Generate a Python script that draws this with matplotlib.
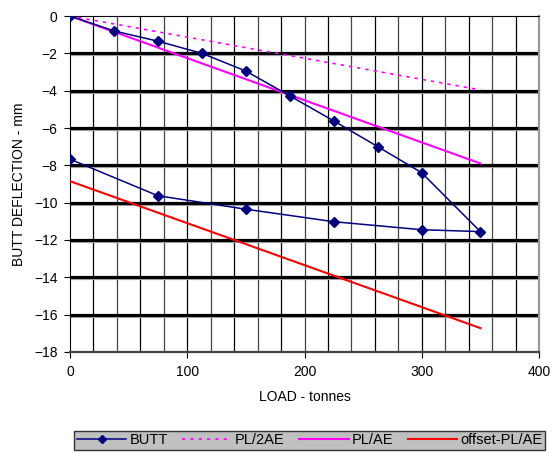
import numpy as np
import matplotlib.pyplot as plt

plt.rcParams['font.family'] = ['Liberation Sans', 'DejaVu Sans']

# BUTT deflection: loading then unloading
butt_load = [0, 37.5, 75, 112.5, 150, 187.5, 225, 262.5, 300, 350,
             300, 225, 150, 75, 0]
butt_defl = [0, -0.8, -1.35, -2.0, -2.95, -4.28, -5.62, -7.0, -8.4, -11.55,
             -11.45, -11.02, -10.35, -9.63, -7.67]

line_load = [0, 350]
pl2ae = [0, -3.96]
plae = [0, -7.9]
offset_plae = [-8.85, -16.72]

fig = plt.figure(figsize=(5.56, 4.53), dpi=100)
ax = fig.add_axes([70 / 556, 1 - 352 / 453, 469 / 556, 336 / 453])

ax.set_xlim(0, 400)
ax.set_ylim(-18, 0)

# grid: vertical every 20, horizontal every 2 (thick, with grey shadow)
for gx in np.arange(20, 400, 20):
    ax.axvline(gx, color='#000000' if (gx // 20) % 2 else '#444444', lw=0.9, zorder=1)
for gy in np.arange(-16, 0, 2):
    ax.plot([0, 400], [gy - 0.1, gy - 0.1], color='#b0b0b0', lw=1.6, zorder=1.1)
    ax.axhline(gy, color='black', lw=2.3, zorder=1.2)

ax.plot(butt_load, butt_defl, color='#000080', lw=1.1, marker='D', ms=5.5,
        label='BUTT', zorder=4)
ax.plot(line_load, pl2ae, color='#ff00ff', lw=1.2, ls=(0, (2, 3)),
        label='PL/2AE', zorder=3)
ax.plot(line_load, plae, color='#ff00ff', lw=1.5, label='PL/AE', zorder=3)
ax.plot(line_load, offset_plae, color='#ff0000', lw=1.5,
        label='offset-PL/AE', zorder=3)

ax.set_xticks([0, 100, 200, 300, 400])
ax.set_yticks(np.arange(-18, 1, 2))
ax.tick_params(labelsize=10, length=4, width=0.8, direction='out', pad=5)

ax.spines['left'].set_color('black')
ax.spines['bottom'].set_color('#444444')
ax.spines['bottom'].set_linewidth(1.6)
ax.spines['right'].set_color('#999999')
ax.spines['right'].set_linewidth(1.6)
ax.spines['top'].set_color('black')
ax.spines['top'].set_linewidth(0.8)

ax.set_xlabel('LOAD - tonnes', fontsize=10, labelpad=8)
ax.set_ylabel('BUTT DEFLECTION - mm', fontsize=10, labelpad=6)

leg = fig.legend(loc='center', bbox_to_anchor=(309.5 / 556, 1 - 440.5 / 453),
                 ncol=4, fontsize=10.5, frameon=True, fancybox=False,
                 handlelength=3.4, handletextpad=0.2, columnspacing=1.0,
                 borderpad=0.2, borderaxespad=0, markerscale=0.8)
leg.get_frame().set_facecolor('#c0c0c0')
leg.get_frame().set_edgecolor('#333333')
leg.get_frame().set_alpha(1)

fig.savefig('out.png', dpi=100)
